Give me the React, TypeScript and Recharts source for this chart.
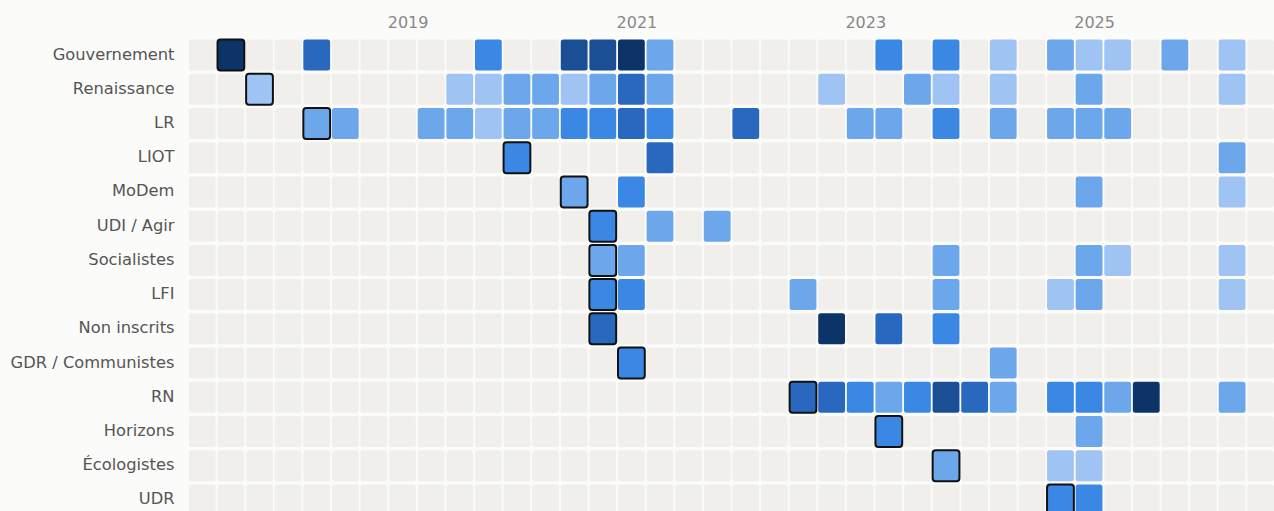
import React from 'react';
import { ScatterChart, Scatter, XAxis, YAxis } from 'recharts';

// parliamentary groups, top to bottom
const ROWS = [
  'Gouvernement', 'Renaissance', 'LR', 'LIOT', 'MoDem', 'UDI / Agir', 'Socialistes',
  'LFI', 'Non inscrits', 'GDR / Communistes', 'RN', 'Horizons', 'Écologistes', 'UDR',
];

// intensity per quarter (0 = none, 1 = lightest .. 6 = darkest), 38 quarters from 2017 Q2
const gouvernement = [0,6,0,0,4,0,0,0,0,0, 3,0,0,5,5,6,2,0,0,0, 0,0,0,0,3,0,3,0,1,0, 2,1,1,0,2,0,1,0];
const renaissance  = [0,0,1,0,0,0,0,0,0,1, 1,2,2,1,2,4,2,0,0,0, 0,0,1,0,0,2,1,0,1,0, 0,2,0,0,0,0,1,0];
const lr           = [0,0,0,0,2,2,0,0,2,2, 1,2,2,3,3,4,3,0,0,4, 0,0,0,2,2,0,3,0,2,0, 2,2,2,0,0,0,0,0];
const liot         = [0,0,0,0,0,0,0,0,0,0, 0,3,0,0,0,0,4,0,0,0, 0,0,0,0,0,0,0,0,0,0, 0,0,0,0,0,0,2,0];
const modem        = [0,0,0,0,0,0,0,0,0,0, 0,0,0,2,0,3,0,0,0,0, 0,0,0,0,0,0,0,0,0,0, 0,2,0,0,0,0,1,0];
const udiAgir      = [0,0,0,0,0,0,0,0,0,0, 0,0,0,0,3,0,2,0,2,0, 0,0,0,0,0,0,0,0,0,0, 0,0,0,0,0,0,0,0];
const socialistes  = [0,0,0,0,0,0,0,0,0,0, 0,0,0,0,2,2,0,0,0,0, 0,0,0,0,0,0,2,0,0,0, 0,2,1,0,0,0,1,0];
const lfi          = [0,0,0,0,0,0,0,0,0,0, 0,0,0,0,3,3,0,0,0,0, 0,2,0,0,0,0,2,0,0,0, 1,2,0,0,0,0,1,0];
const nonInscrits  = [0,0,0,0,0,0,0,0,0,0, 0,0,0,0,4,0,0,0,0,0, 0,0,6,0,4,0,3,0,0,0, 0,0,0,0,0,0,0,0];
const gdr          = [0,0,0,0,0,0,0,0,0,0, 0,0,0,0,0,3,0,0,0,0, 0,0,0,0,0,0,0,0,2,0, 0,0,0,0,0,0,0,0];
const rn           = [0,0,0,0,0,0,0,0,0,0, 0,0,0,0,0,0,0,0,0,0, 0,4,4,3,2,3,5,4,2,0, 3,3,2,6,0,0,2,0];
const horizons     = [0,0,0,0,0,0,0,0,0,0, 0,0,0,0,0,0,0,0,0,0, 0,0,0,0,3,0,0,0,0,0, 0,2,0,0,0,0,0,0];
const ecologistes  = [0,0,0,0,0,0,0,0,0,0, 0,0,0,0,0,0,0,0,0,0, 0,0,0,0,0,0,2,0,0,0, 1,1,0,0,0,0,0,0];
const udr          = [0,0,0,0,0,0,0,0,0,0, 0,0,0,0,0,0,0,0,0,0, 0,0,0,0,0,0,0,0,0,0, 3,3,0,0,0,0,0,0];

const VALUES = [gouvernement, renaissance, lr, liot, modem, udiAgir, socialistes, lfi, nonInscrits, gdr, rn, horizons, ecologistes, udr];

// quarter of each group's first appearance (outlined cell)
const FIRST_COL = [1, 2, 4, 11, 13, 14, 14, 14, 14, 15, 21, 24, 26, 30];

const YEAR_COLS = [7, 15, 23, 31];
const YEAR_LABELS = ['2019', '2021', '2023', '2025'];

const N_COLS = 38;
const LEVEL_COLORS = ['#f0efec', '#9fc3f3', '#6ca7eb', '#3a88e3', '#2869bf', '#1a4f95', '#0d3469'];
const FONT = '"DejaVu Sans", sans-serif';
const CELL_W = 26.8;
const CELL_H = 31;

const cells = VALUES.flatMap((row, r) =>
  row.map((level, c) => ({ x: c + 0.5, y: r + 0.5, level, first: FIRST_COL[r] === c }))
);
const firstCells = cells.filter(d => d.first);

const CellShape = (props: any) => {
  const { cx, cy, payload } = props;
  return (
    <rect
      x={cx - CELL_W / 2}
      y={cy - CELL_H / 2}
      width={CELL_W}
      height={CELL_H}
      rx={2.5}
      fill={LEVEL_COLORS[payload.level]}
    />
  );
};

const FirstShape = (props: any) => {
  const { cx, cy, payload } = props;
  return (
    <rect
      x={cx - CELL_W / 2}
      y={cy - CELL_H / 2}
      width={CELL_W}
      height={CELL_H}
      rx={3}
      fill={LEVEL_COLORS[payload.level]}
      stroke="#111"
      strokeWidth={2}
    />
  );
};

const YearTick = (props: any) => {
  const { x, y, payload } = props;
  const i = YEAR_COLS.indexOf(payload.value);
  return (
    <text x={x - 0.5} y={y - 2} textAnchor="start" fill="#888" fontSize={16} fontFamily={FONT}>
      {YEAR_LABELS[i]}
    </text>
  );
};

const RowTick = (props: any) => {
  const { x, y, payload } = props;
  return (
    <text x={x} y={y - 1} textAnchor="end" dominantBaseline="central" fill="#555" fontSize={16.3} fontFamily={FONT}>
      {ROWS[Math.floor(payload.value)]}
    </text>
  );
};

export default function App() {
  return (
    <div style={{ position: 'fixed', left: 0, top: 0, width: 1274, height: 511, overflow: 'hidden', background: '#fbfbf9' }}>
      <ScatterChart width={1275} height={517} margin={{ top: 0, right: 0, bottom: 0, left: 0 }}>
        <XAxis
          type="number"
          dataKey="x"
          orientation="top"
          domain={[0, N_COLS]}
          ticks={YEAR_COLS}
          interval={0}
          height={38}
          axisLine={false}
          tickLine={false}
          tick={<YearTick />}
        />
        <YAxis
          type="number"
          dataKey="y"
          domain={[0, ROWS.length]}
          reversed
          ticks={ROWS.map((_, i) => i + 0.5)}
          interval={0}
          width={188}
          axisLine={false}
          tickLine={false}
          tickMargin={7.5}
          tick={<RowTick />}
        />
        <Scatter data={cells} shape={<CellShape />} isAnimationActive={false} />
        <Scatter data={firstCells} shape={<FirstShape />} isAnimationActive={false} />
      </ScatterChart>
    </div>
  );
}
